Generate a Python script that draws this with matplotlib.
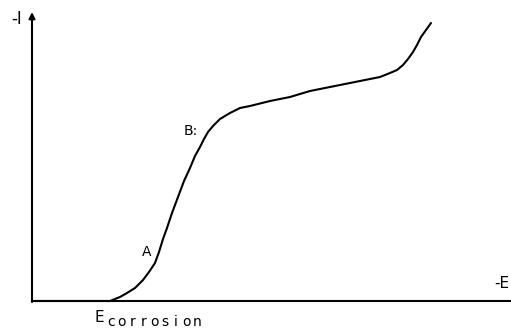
import matplotlib
matplotlib.use("Agg")
import matplotlib.pyplot as plt

# polarisation curve, arbitrary units (-E along x, -I along y)
potencial = [0, 78, 88, 95, 103, 111, 117, 123, 127, 131, 135, 140, 146,
             152, 158, 163, 168, 172, 176, 181, 188, 198, 208, 218, 238,
             258, 278, 298, 318, 338, 348, 358, 365, 371, 376, 381, 385,
             389, 394, 399]
corriente = [0, 0, 4, 8, 13, 21, 29, 38, 49, 62, 73, 88, 104,
             120, 133, 145, 154, 162, 169, 175, 182, 188, 193, 195, 200,
             204, 210, 214, 218, 222, 224, 228, 231, 236, 242, 249, 256,
             264, 271, 278]

puntos = {"A": (115, 49), "B:": (159, 170)}
subindice = "corrosion"

fig = plt.figure(figsize=(5.11, 3.30), dpi=100)
ax = fig.add_axes([32/511, 29/330, 479/511, 301/330])
ax.set_xlim(0, 479)
ax.set_ylim(0, 301)
for s in ax.spines.values():
    s.set_visible(False)
ax.set_xticks([])
ax.set_yticks([])

# ejes
ax.axhline(0, color="k", lw=1.5, clip_on=False)
ax.annotate("", xy=(0, 289), xytext=(0, -1),
            arrowprops=dict(arrowstyle="-|>", lw=1.5, color="k",
                            mutation_scale=9, shrinkA=0, shrinkB=0),
            annotation_clip=False)

ax.plot(potencial, corriente, color="k", lw=1.5, solid_capstyle="round",
        solid_joinstyle="round", clip_on=False)

ax.text(-15, 282, "-I", fontsize=12, ha="center", va="center")
ax.text(470, 18, "-E", fontsize=11, ha="center", va="center")
for etiqueta, (x, y) in puntos.items():
    ax.text(x, y, etiqueta, fontsize=10, ha="center", va="center")

# E_corrosion, subindice espaciado
ax.text(67, -16, "E", fontsize=11, ha="center", va="center", clip_on=False)
for i, c in enumerate(subindice):
    ax.text(79 + i * 10.8, -21, c, fontsize=10, ha="center", va="center",
            clip_on=False)

fig.savefig("out.png", dpi=100)
